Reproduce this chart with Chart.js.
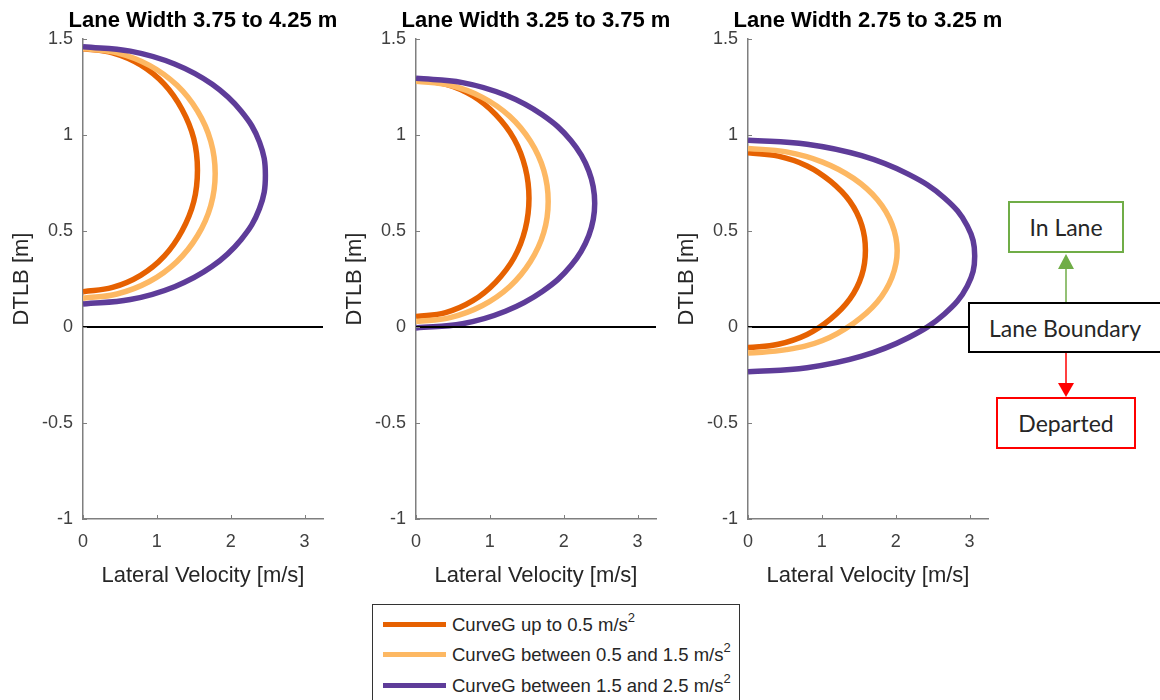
<!DOCTYPE html>
<html lang="en">
<head>
    <meta charset="UTF-8">
    <title>DTLB vs lateral velocity</title>
    <script src="https://cdn.jsdelivr.net/npm/chart.js"></script>
    <style>
        body { margin: 0; width: 1160px; height: 700px; overflow: hidden; background: #fff; position: relative; }
        .panel { position: absolute; top: 0; width: 360px; height: 600px; }
        .note { position: absolute; box-sizing: border-box; border: 2px solid; background: #fff;
                display: flex; align-items: center; justify-content: center;
                font-family: Lato, sans-serif; font-size: 23px; color: #262626; }
        #legend { position: absolute; left: 372px; top: 604px; width: 368px; height: 110px; box-sizing: border-box;
                  border: 1px solid #333; background: #fff; font-family: "Liberation Sans", Arial, sans-serif;
                  font-size: 18.5px; color: #262626; }
        .item { position: absolute; left: 10px; height: 30px; display: flex; align-items: center; }
        .swatch { width: 63px; height: 5px; margin-right: 6px; }
        .item sup { font-size: 13px; position: relative; top: -2px; }
    </style>
</head>
<body>
    <div class="panel" style="left:0px"><canvas id="c0" width="360" height="600"></canvas></div>
    <div class="panel" style="left:333px"><canvas id="c1" width="360" height="600"></canvas></div>
    <div class="panel" style="left:665px"><canvas id="c2" width="360" height="600"></canvas></div>

    <svg width="1160" height="700" style="position:absolute;left:0;top:0">
        <line x1="1066" y1="303" x2="1066" y2="268" stroke="#70ad47" stroke-width="1.5"/>
        <polygon points="1066,254 1058,269 1074,269" fill="#70ad47"/>
        <line x1="1066" y1="352" x2="1066" y2="384" stroke="#ff0000" stroke-width="1.5"/>
        <polygon points="1066,397 1058,383 1074,383" fill="#ff0000"/>
    </svg>
    <div class="note" style="left:968px;top:302px;width:194px;height:51px;border-color:#000">Lane Boundary</div>
    <div class="note" style="left:1008px;top:201px;width:116px;height:52px;border-color:#70ad47">In Lane</div>
    <div class="note" style="left:996px;top:397px;width:140px;height:52px;border-color:#ff0000">Departed</div>

    <div id="legend"></div>
</body>
<script>
    const panelTitles = ["Lane Width 3.75 to 4.25 m", "Lane Width 3.25 to 3.75 m", "Lane Width 2.75 to 3.25 m"];
    const seriesLabels = ["CurveG up to 0.5 m/s", "CurveG between 0.5 and 1.5 m/s", "CurveG between 1.5 and 2.5 m/s"];
    const seriesColors = ["#e66101", "#fdb863", "#5e3c99"];
    const xTicks = [0, 1, 2, 3];
    const yTicks = [-1, -0.5, 0, 0.5, 1, 1.5];
    const laneBoundary = [[0, 0], [3.25, 0]];

    // [lateral velocity, DTLB], top to bottom
    const wideLow = [[0, 1.45], [0.40, 1.428], [0.78, 1.365], [1.10, 1.265], [1.34, 1.134], [1.50, 0.981], [1.55, 0.817],
                     [1.50, 0.653], [1.34, 0.500], [1.10, 0.369], [0.78, 0.269], [0.40, 0.206], [0, 0.184]];
    const wideMid = [[0, 1.45], [0.46, 1.428], [0.90, 1.363], [1.27, 1.260], [1.55, 1.125], [1.73, 0.968], [1.79, 0.80],
                     [1.73, 0.632], [1.55, 0.475], [1.27, 0.340], [0.90, 0.237], [0.46, 0.172], [0, 0.15]];
    const wideHigh = [[0, 1.46], [0.64, 1.437], [1.24, 1.370], [1.75, 1.264], [2.14, 1.125], [2.39, 0.963], [2.47, 0.79],
                      [2.39, 0.617], [2.14, 0.455], [1.75, 0.316], [1.24, 0.210], [0.64, 0.143], [0, 0.12]];

    const mediumLow = [[0, 1.286], [0.40, 1.265], [0.77, 1.203], [1.08, 1.106], [1.33, 0.978], [1.48, 0.829], [1.53, 0.67],
                       [1.48, 0.511], [1.33, 0.362], [1.08, 0.234], [0.77, 0.137], [0.40, 0.075], [0, 0.054]];
    const mediumMid = [[0, 1.28], [0.46, 1.259], [0.90, 1.196], [1.27, 1.097], [1.55, 0.967], [1.73, 0.816], [1.79, 0.654],
                       [1.73, 0.492], [1.55, 0.341], [1.27, 0.211], [0.90, 0.112], [0.46, 0.049], [0, 0.028]];
    const mediumHigh = [[0, 1.295], [0.63, 1.273], [1.21, 1.208], [1.71, 1.105], [2.10, 0.970], [2.34, 0.813], [2.42, 0.645],
                        [2.34, 0.477], [2.10, 0.320], [1.71, 0.185], [1.21, 0.082], [0.63, 0.017], [0, -0.005]];

    const narrowLow = [[0, 0.907], [0.41, 0.890], [0.80, 0.839], [1.12, 0.758], [1.38, 0.654], [1.54, 0.531], [1.59, 0.40],
                       [1.54, 0.269], [1.38, 0.146], [1.12, 0.042], [0.80, -0.039], [0.41, -0.090], [0, -0.107]];
    const narrowMid = [[0, 0.93], [0.52, 0.912], [1.01, 0.859], [1.43, 0.774], [1.75, 0.664], [1.95, 0.535], [2.02, 0.397],
                       [1.95, 0.259], [1.75, 0.130], [1.43, 0.020], [1.01, -0.070], [0.52, -0.118], [0, -0.136]];
    const narrowHigh = [[0, 0.973], [0.80, 0.952], [1.54, 0.892], [2.17, 0.796], [2.66, 0.672], [2.97, 0.526], [3.07, 0.37],
                        [2.97, 0.214], [2.66, 0.068], [2.17, -0.056], [1.54, -0.152], [0.80, -0.212], [0, -0.233]];

    const panelSeries = [
        [wideLow, wideMid, wideHigh],
        [mediumLow, mediumMid, mediumHigh],
        [narrowLow, narrowMid, narrowHigh]
    ];

    const axisGray = "#7f7f7f";
    const tickText = "#404040";
    const sans = "'Liberation Sans', Arial, sans-serif";

    // bold title centred over the plot area
    const panelTitle = {
        id: "panelTitle",
        afterDraw(chart, args, opts) {
            const ctx = chart.ctx, area = chart.chartArea;
            ctx.save();
            ctx.font = "bold 22px " + sans;
            ctx.fillStyle = "#000";
            ctx.textAlign = "center";
            ctx.textBaseline = "middle";
            ctx.fillText(opts.text, (area.left + area.right) / 2, 21);
            ctx.restore();
        }
    };

    // short tick marks pointing into the plot
    const inwardTicks = {
        id: "inwardTicks",
        afterDraw(chart) {
            const ctx = chart.ctx, x = chart.scales.x, y = chart.scales.y;
            ctx.save();
            ctx.strokeStyle = axisGray;
            ctx.lineWidth = 1;
            ctx.beginPath();
            x.ticks.forEach(t => {
                const px = Math.round(x.getPixelForValue(t.value)) + 0.5;
                ctx.moveTo(px, y.bottom);
                ctx.lineTo(px, y.bottom - 4);
            });
            y.ticks.forEach(t => {
                const py = Math.round(y.getPixelForValue(t.value)) + 0.5;
                ctx.moveTo(x.left, py);
                ctx.lineTo(x.left + 4, py);
            });
            ctx.stroke();
            ctx.restore();
        }
    };

    function makePanel(idx) {
        const datasets = [{
            data: laneBoundary,
            borderColor: "#000",
            borderWidth: 2,
            tension: 0,
            order: 0
        }];
        panelSeries[idx].forEach((curve, i) => {
            datasets.push({
                label: seriesLabels[i],
                data: curve,
                borderColor: seriesColors[i],
                borderWidth: 5.5,
                tension: 0.4,
                order: 3 - i
            });
        });

        new Chart(document.getElementById("c" + idx), {
            type: "scatter",
            data: { datasets: datasets },
            plugins: [panelTitle, inwardTicks],
            options: {
                responsive: false,
                animation: false,
                showLine: true,
                elements: { point: { radius: 0, hoverRadius: 0 } },
                layout: { padding: { top: 39, right: 37, bottom: 11, left: 0 } },
                plugins: {
                    legend: { display: false },
                    tooltip: { enabled: false },
                    panelTitle: { text: panelTitles[idx] }
                },
                scales: {
                    x: {
                        type: "linear",
                        min: 0,
                        max: 3.25,
                        afterBuildTicks(s) { s.ticks = xTicks.map(v => ({ value: v })); },
                        afterFit(s) { s.height = 70; },
                        ticks: { color: tickText, font: { size: 18, family: sans }, padding: 12, callback: v => String(v) },
                        grid: { drawOnChartArea: false, drawTicks: false },
                        border: { color: axisGray, width: 1.5 },
                        title: { display: true, text: "Lateral Velocity [m/s]", color: "#262626",
                                 font: { size: 22, family: sans }, padding: { top: 0, bottom: 0 } }
                    },
                    y: {
                        type: "linear",
                        min: -1,
                        max: 1.5,
                        afterBuildTicks(s) { s.ticks = yTicks.map(v => ({ value: v })); },
                        afterFit(s) { s.width = 83; },
                        ticks: { color: tickText, font: { size: 18, family: sans }, padding: 10, callback: v => String(v) },
                        grid: { drawOnChartArea: false, drawTicks: false },
                        border: { color: axisGray, width: 1.5 },
                        title: { display: true, text: "DTLB [m]", color: "#262626",
                                 font: { size: 22, family: sans }, padding: { top: 9, bottom: 0 } }
                    }
                }
            }
        });
    }

    [0, 1, 2].forEach(makePanel);

    // legend under the middle panel
    const legend = document.getElementById("legend");
    seriesLabels.forEach((label, i) => {
        const row = document.createElement("div");
        row.className = "item";
        row.style.top = (4 + i * 30.5) + "px";
        row.innerHTML = '<span class="swatch" style="background:' + seriesColors[i] + '"></span>' +
                        '<span>' + label + '<sup>2</sup></span>';
        legend.appendChild(row);
    });
</script>
</html>
